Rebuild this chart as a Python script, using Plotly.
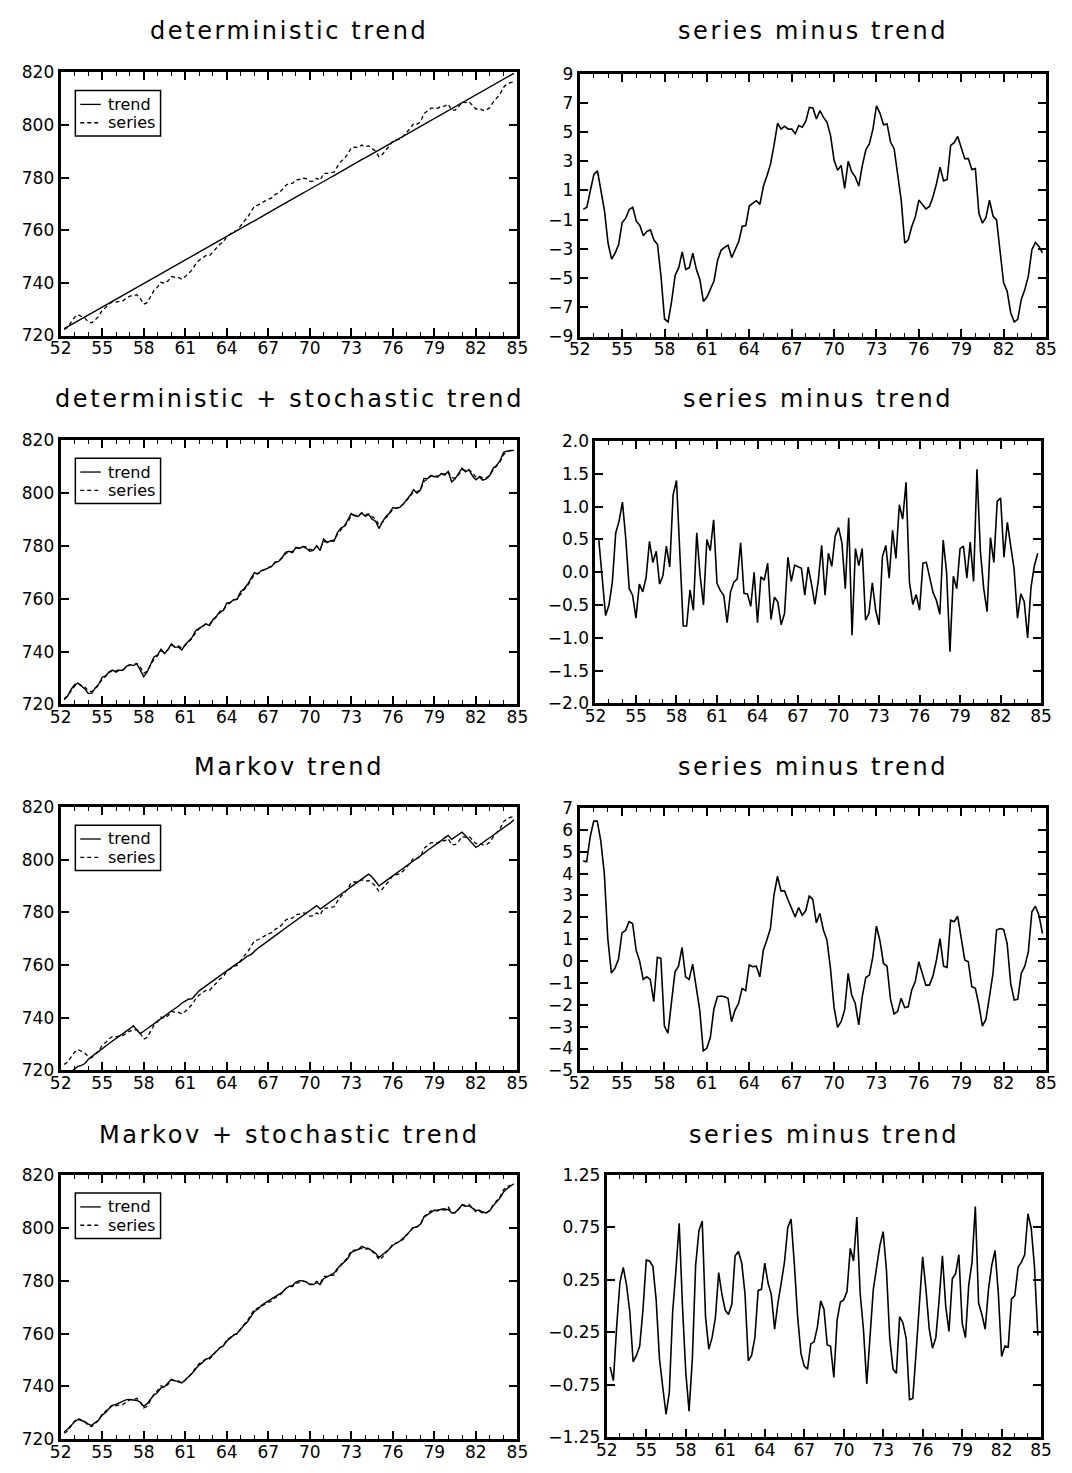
import plotly.graph_objects as go

W, H = 1072, 1473

# ---------------- data (quarterly, 1952Q2 .. 1984Q4) ----------------
series = [722.3, 723.1, 725.0, 726.9, 727.9, 727.4, 726.6, 725.2, 724.8, 726.0,
          727.3, 729.6, 730.6, 732.0, 732.9, 732.7, 733.1, 733.2, 734.2, 735.0,
          735.1, 735.5, 734.1, 731.9, 732.5, 734.6, 737.2, 738.4, 740.3, 739.8,
          740.7, 742.4, 742.1, 742.1, 741.4, 742.4, 743.6, 745.0, 747.1, 748.6,
          749.5, 750.4, 750.3, 751.7, 752.9, 754.7, 755.5, 757.6, 758.5, 759.5,
          759.9, 761.9, 763.4, 764.9, 767.0, 769.2, 769.6, 770.5, 771.1, 771.8,
          772.3, 773.6, 774.2, 775.4, 777.0, 777.8, 777.8, 779.1, 779.3, 779.8,
          779.6, 778.6, 778.7, 779.8, 779.0, 781.6, 781.6, 782.0, 782.1, 784.3,
          786.1, 787.3, 789.0, 791.4, 791.6, 791.5, 792.4, 791.8, 792.1, 791.1,
          790.1, 787.9, 788.9, 790.6, 792.0, 793.9, 794.3, 794.7, 795.7, 797.1,
          798.7, 800.6, 800.4, 801.2, 804.3, 805.3, 806.4, 806.5, 806.4, 807.2,
          807.2, 808.0, 805.7, 805.7, 806.9, 808.8, 808.5, 808.9, 807.6, 806.1,
          806.3, 805.6, 805.7, 806.6, 808.7, 810.1, 811.8, 814.4, 815.6, 816.1,
          816.4]

resid_det = [-0.3, -0.15, 1.0, 2.1, 2.35, 1.1, -0.4, -2.6, -3.7, -3.3,
             -2.7, -1.2, -0.9, -0.3, -0.15, -1.1, -1.4, -2.1, -1.8, -1.7,
             -2.4, -2.7, -4.9, -7.8, -8.0, -6.6, -4.8, -4.3, -3.2, -4.4,
             -4.3, -3.3, -4.4, -5.1, -6.6, -6.3, -5.8, -5.2, -3.8, -3.1,
             -2.9, -2.75, -3.6, -3.0, -2.5, -1.45, -1.4, -0.05, 0.1, 0.3,
             0.05, 1.3, 2.0, 2.8, 4.1, 5.6, 5.2, 5.4, 5.2, 5.2,
             4.88, 5.44, 5.33, 5.74, 6.69, 6.65, 5.9, 6.46, 6.0, 5.67,
             4.76, 3.06, 2.38, 2.72, 1.14, 3.0, 2.27, 1.93, 1.3, 2.72,
             3.79, 4.2, 5.2, 6.8, 6.28, 5.5, 5.56, 4.3, 3.86, 2.04,
             0.34, -2.6, -2.38, -1.47, -0.8, 0.34, 0.0, -0.27, -0.1, 0.57,
             1.48, 2.6, 1.66, 1.75, 4.08, 4.27, 4.7, 3.97, 3.18, 3.18,
             2.43, 2.5, -0.56, -1.24, -0.84, 0.34, -0.75, -1.02, -3.06, -5.33,
             -5.9, -7.37, -8.0, -7.82, -6.46, -5.78, -4.87, -3.06, -2.56, -2.83,
             -3.28]

resid_det_stoch = [0.49, -0.05, -0.66, -0.5, -0.15, 0.6, 0.78, 1.07, 0.5, -0.25,
                   -0.35, -0.7, -0.18, -0.3, -0.08, 0.47, 0.15, 0.32, -0.18, -0.05,
                   0.4, 0.08, 1.18, 1.4, 0.2, -0.82, -0.82, -0.27, -0.58, 0.6,
                   -0.05, -0.5, 0.5, 0.33, 0.8, -0.17, -0.28, -0.35, -0.77, -0.3,
                   -0.15, -0.1, 0.45, -0.32, -0.33, -0.52, 0.0, -0.77, -0.07, -0.12,
                   0.14, -0.72, -0.38, -0.45, -0.8, -0.63, 0.23, -0.14, 0.11, 0.09,
                   0.06, -0.35, 0.08, -0.18, -0.49, -0.13, 0.41, -0.35, 0.29, 0.09,
                   0.55, 0.68, 0.45, -0.25, 0.83, -0.96, 0.36, 0.1, 0.36, -0.73,
                   -0.63, -0.16, -0.58, -0.8, 0.24, 0.41, -0.09, 0.64, 0.21, 1.03,
                   0.81, 1.37, -0.15, -0.49, -0.34, -0.58, 0.14, 0.15, -0.1, -0.31,
                   -0.43, -0.64, 0.49, 0.0, -1.21, -0.06, -0.25, 0.36, 0.4, -0.09,
                   0.46, -0.14, 1.57, 0.33, -0.25, -0.6, 0.53, 0.15, 1.08, 1.13,
                   0.23, 0.76, 0.4, 0.05, -0.7, -0.33, -0.45, -1.0, -0.23, 0.1,
                   0.29]

resid_markov = [4.58, 4.54, 5.68, 6.4, 6.4, 5.5, 4.0, 1.0, -0.55, -0.33,
                0.08, 1.29, 1.4, 1.8, 1.72, 0.5, 0.0, -0.84, -0.72, -0.84,
                -1.86, 0.17, 0.12, -2.97, -3.3, -2.0, -0.49, -0.23, 0.62, -0.72,
                -0.84, -0.14, -1.25, -2.24, -4.1, -3.99, -3.5, -2.2, -1.63, -1.6,
                -1.63, -1.7, -2.77, -2.24, -1.93, -1.25, -1.35, -0.18, -0.26, -0.23,
                -0.72, 0.5, 0.96, 1.49, 3.01, 3.88, 3.21, 3.21, 2.79, 2.4,
                2.02, 2.45, 2.1, 2.3, 2.97, 2.82, 1.75, 2.18, 1.42, 0.96,
                -0.33, -2.09, -3.03, -2.77, -2.24, -0.56, -1.55, -1.93, -2.92, -1.63,
                -0.75, -0.64, 0.2, 1.6, 0.93, -0.11, -0.23, -1.75, -2.42, -2.31,
                -1.7, -2.13, -2.09, -1.32, -0.94, -0.03, -0.56, -1.1, -1.1, -0.68,
                0.05, 1.03, -0.23, -0.29, 1.87, 1.8, 2.05, 1.11, 0.05, -0.03,
                -1.17, -1.25, -2.0, -2.97, -2.66, -1.63, -0.56, 1.42, 1.49, 1.45,
                0.81, -1.02, -1.78, -1.75, -0.56, -0.23, 0.43, 2.25, 2.51, 2.1,
                1.26]

resid_markov_stoch = [-0.58, -0.71, -0.19, 0.23, 0.37, 0.2, -0.06, -0.53, -0.47, -0.38,
                      -0.03, 0.44, 0.43, 0.38, 0.06, -0.5, -0.77, -1.03, -0.82, -0.06,
                      0.34, 0.79, 0.0, -0.63, -1.0, -0.5, 0.39, 0.72, 0.81, -0.1,
                      -0.41, -0.3, -0.11, 0.32, 0.11, -0.04, -0.08, 0.02, 0.48, 0.52,
                      0.41, 0.12, -0.52, -0.47, -0.3, 0.15, 0.16, 0.41, 0.22, 0.11,
                      -0.22, 0.03, 0.22, 0.42, 0.75, 0.83, 0.4, -0.1, -0.45, -0.57,
                      -0.6, -0.36, -0.34, -0.2, 0.05, -0.03, -0.37, -0.38, -0.68, -0.13,
                      0.04, 0.06, 0.14, 0.55, 0.43, 0.85, 0.12, -0.22, -0.74, -0.31,
                      0.16, 0.37, 0.58, 0.71, 0.34, -0.31, -0.6, -0.64, -0.1, -0.16,
                      -0.31, -0.89, -0.88, -0.44, 0.0, 0.47, 0.16, -0.22, -0.4, -0.3,
                      0.06, 0.48, 0.0, -0.24, 0.26, 0.31, 0.49, -0.16, -0.3, 0.2,
                      0.42, 0.95, 0.03, -0.08, -0.22, 0.16, 0.39, 0.53, 0.12, -0.48,
                      -0.38, -0.39, 0.07, 0.1, 0.37, 0.42, 0.49, 0.88, 0.74, 0.37,
                      -0.28]

quarters = [52 + q / 4 for q in range(1, len(series) + 1)]

left_titles = ["deterministic trend", "deterministic + stochastic trend",
               "Markov trend", "Markov + stochastic trend"]
right_title = "series minus trend"
legend_labels = ["trend", "series"]

left_y_ticks = [720, 740, 760, 780, 800, 820]
right_y_ticks = [
    [-9, -7, -5, -3, -1, 1, 3, 5, 7, 9],
    [-2.0, -1.5, -1.0, -0.5, 0.0, 0.5, 1.0, 1.5, 2.0],
    [-5, -4, -3, -2, -1, 0, 1, 2, 3, 4, 5, 6, 7],
    [-1.25, -0.75, -0.25, 0.25, 0.75, 1.25],
]
right_y_fmt = ["d", ".1f", "d", ".2f"]
residuals = [resid_det, resid_det_stoch, resid_markov, resid_markov_stoch]

# ---------------- layout geometry (pixels, top-left origin) ----------------
left_boxes = [(50.7, 517, 63.3, 330), (50.7, 517, 436, 704),
              (50.7, 517, 808, 1075), (50.7, 517, 1181, 1449)]
right_boxes = [(580.7, 1056.7, 64.5, 331), (596.7, 1051.7, 437, 703),
               (580.5, 1056.7, 809, 1075), (608.3, 1051.7, 1181, 1447)]
title_y = [21, 394, 767, 1140]

def px(x):
    return x / W

def py(y):
    return 1 - y / H

fig = go.Figure()
layout = dict(width=W, height=H, autosize=False,
              margin=dict(l=0, r=0, t=0, b=0),
              paper_bgcolor="white", plot_bgcolor="white",
              showlegend=False)

FONT = "DejaVu Sans"
tickfont = dict(family=FONT, size=17, color="black")

def axis_common():
    return dict(showline=True, linewidth=3, linecolor="black", mirror="ticks",
                ticks="inside", tickcolor="black", tickwidth=1.5,
                showgrid=False, zeroline=False, tickfont=tickfont)

shapes = []
annotations = []

for r in range(4):
    resid = residuals[r]
    trend = [s - e for s, e in zip(series, resid)]
    for c in range(2):
        k = r * 2 + c + 1
        xa = "x" if k == 1 else f"x{k}"
        ya = "y" if k == 1 else f"y{k}"
        box = left_boxes[r] if c == 0 else right_boxes[r]
        x0, x1, y0, y1 = box
        xax = axis_common()
        xax.update(domain=[px(x0), px(x1)], range=[52, 85], anchor=ya,
                   tickmode="linear", tick0=52, dtick=3, ticklen=8,
                   ticklabelstandoff=-5,
                   minor=dict(tickmode="linear", tick0=52, dtick=1, ticklen=4,
                              ticks="inside", tickcolor="black", tickwidth=1.2))
        yax = axis_common()
        yax.update(domain=[py(y1), py(y0)], anchor=xa, ticklen=8)
        if c == 0:
            yax.update(range=[720, 820], tickmode="array", tickvals=left_y_ticks)
            fig.add_trace(go.Scatter(x=quarters, y=trend, mode="lines",
                                     line=dict(color="black", width=1.4),
                                     xaxis=xa, yaxis=ya, name="trend"))
            fig.add_trace(go.Scatter(x=quarters, y=series, mode="lines",
                                     line=dict(color="black", width=1.3, dash="4px,3px"),
                                     xaxis=xa, yaxis=ya, name="series"))
            # legend box
            shapes.append(dict(type="rect", xref="paper", yref="paper",
                               x0=px(x0 + 15), x1=px(x0 + 102),
                               y0=py(y0 + 64.4), y1=py(y0 + 18.4),
                               line=dict(color="black", width=1.5),
                               fillcolor="white", layer="above"))
            for j, (lab, dash) in enumerate(zip(legend_labels, ["solid", "4px,3px"])):
                yy = y0 + 32.4 + j * 18.6
                shapes.append(dict(type="line", xref="paper", yref="paper",
                                   x0=px(x0 + 20), x1=px(x0 + 41),
                                   y0=py(yy), y1=py(yy),
                                   line=dict(color="black", width=1.3, dash=dash),
                                   layer="above"))
                annotations.append(dict(xref="paper", yref="paper",
                                        x=px(x0 + 46.5), y=py(yy), text=lab,
                                        xanchor="left", yanchor="middle",
                                        showarrow=False,
                                        font=dict(family=FONT, size=16, color="black")))
            title = left_titles[r]
        else:
            yr = right_y_ticks[r]
            yax.update(range=[yr[0], yr[-1]], tickmode="array", tickvals=yr,
                       tickformat=right_y_fmt[r])
            fig.add_trace(go.Scatter(x=quarters, y=resid, mode="lines",
                                     line=dict(color="black", width=1.6),
                                     xaxis=xa, yaxis=ya, name="series minus trend"))
            title = right_title
        layout["xaxis" if k == 1 else f"xaxis{k}"] = xax
        layout["yaxis" if k == 1 else f"yaxis{k}"] = yax
        annotations.append(dict(xref="paper", yref="paper",
                                x=px((x0 + x1) / 2), y=py(title_y[r]),
                                text=f'<span style="letter-spacing:2.6px">{title}</span>',
                                xanchor="center", yanchor="middle", showarrow=False,
                                font=dict(family=FONT, size=24, color="black")))

layout["shapes"] = shapes
layout["annotations"] = annotations
fig.update_layout(**layout)
fig.write_html("out.html",
               config={"displayModeBar": False},
               post_script="document.body.style.margin='0';"
                           "document.body.style.overflow='hidden';")
